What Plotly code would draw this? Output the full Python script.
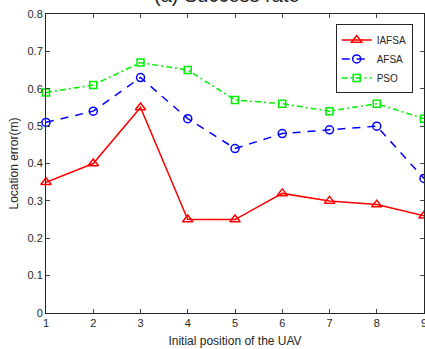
import plotly.graph_objects as go

positions = [1, 2, 3, 4, 5, 6, 7, 8, 9]
iafsa = [0.35, 0.40, 0.55, 0.25, 0.25, 0.32, 0.30, 0.29, 0.26]
afsa = [0.51, 0.54, 0.63, 0.52, 0.44, 0.48, 0.49, 0.50, 0.36]
pso = [0.59, 0.61, 0.67, 0.65, 0.57, 0.56, 0.54, 0.56, 0.52]
y_ticks = [0, 0.1, 0.2, 0.3, 0.4, 0.5, 0.6, 0.7, 0.8]
y_tick_labels = ["0", "0.1", "0.2", "0.3", "0.4", "0.5", "0.6", "0.7", "0.8"]

FONT = "Liberation Sans, Arial, Helvetica, sans-serif"
TXT = "#262626"

fig = go.Figure()
fig.add_trace(go.Scatter(x=positions, y=iafsa, name="IAFSA", mode="lines+markers",
                         line=dict(color="#ff0000", width=1.5, dash="solid"),
                         marker=dict(symbol="triangle-up-open", size=9, color="#ff0000",
                                     line=dict(width=1.5, color="#ff0000")),
                         cliponaxis=False))
fig.add_trace(go.Scatter(x=positions, y=afsa, name="AFSA", mode="lines+markers",
                         line=dict(color="#0000ff", width=1.5, dash="8px,7px"),
                         marker=dict(symbol="circle-open", size=8, color="#0000ff",
                                     line=dict(width=1.5, color="#0000ff")),
                         cliponaxis=False))
fig.add_trace(go.Scatter(x=positions, y=pso, name="PSO", mode="lines+markers",
                         line=dict(color="#00ee00", width=1.5, dash="6px,3px,2px,3px"),
                         marker=dict(symbol="square-open", size=7, color="#00ee00",
                                     line=dict(width=1.5, color="#00ee00")),
                         cliponaxis=False))

fig.update_layout(
    width=425, height=349,
    margin=dict(l=46, r=1, t=14, b=36),
    paper_bgcolor="white", plot_bgcolor="white",
    font=dict(family=FONT, size=11, color=TXT),
    showlegend=True,
    legend=dict(x=0.97, y=0.965, xanchor="right", yanchor="top",
                bgcolor="white", bordercolor="#262626", borderwidth=1,
                font=dict(size=10, color=TXT), tracegroupgap=0,
                itemwidth=30),
    annotations=[dict(text="(a) Success rate", xref="paper", yref="paper",
                      x=0.48, y=1.0 + 6 / 299, xanchor="center", yanchor="bottom",
                      showarrow=False, font=dict(size=20, family=FONT, color=TXT))],
)
fig.update_xaxes(range=[1, 9], tickvals=positions, ticks="inside", ticklen=4,
                 showline=True, linecolor="#262626", linewidth=1, mirror="ticks",
                 showgrid=False, zeroline=False, automargin=False,
                 ticklabeloverflow="allow",
                 title=dict(text="Initial position of the UAV", font=dict(size=12), standoff=8),
                 tickfont=dict(size=11, color=TXT))
fig.update_yaxes(range=[0, 0.8], tickvals=y_ticks, ticktext=y_tick_labels, ticks="inside", ticklen=4,
                 showline=True, linecolor="#262626", linewidth=1, mirror="ticks",
                 showgrid=False, zeroline=False, automargin=False,
                 title=dict(text="Location error(m)", font=dict(size=12), standoff=6),
                 tickfont=dict(size=11, color=TXT))

fig.write_html("out.html", config={"displayModeBar": False},
               post_script="document.body.style.margin='0';document.body.style.overflow='hidden';")
